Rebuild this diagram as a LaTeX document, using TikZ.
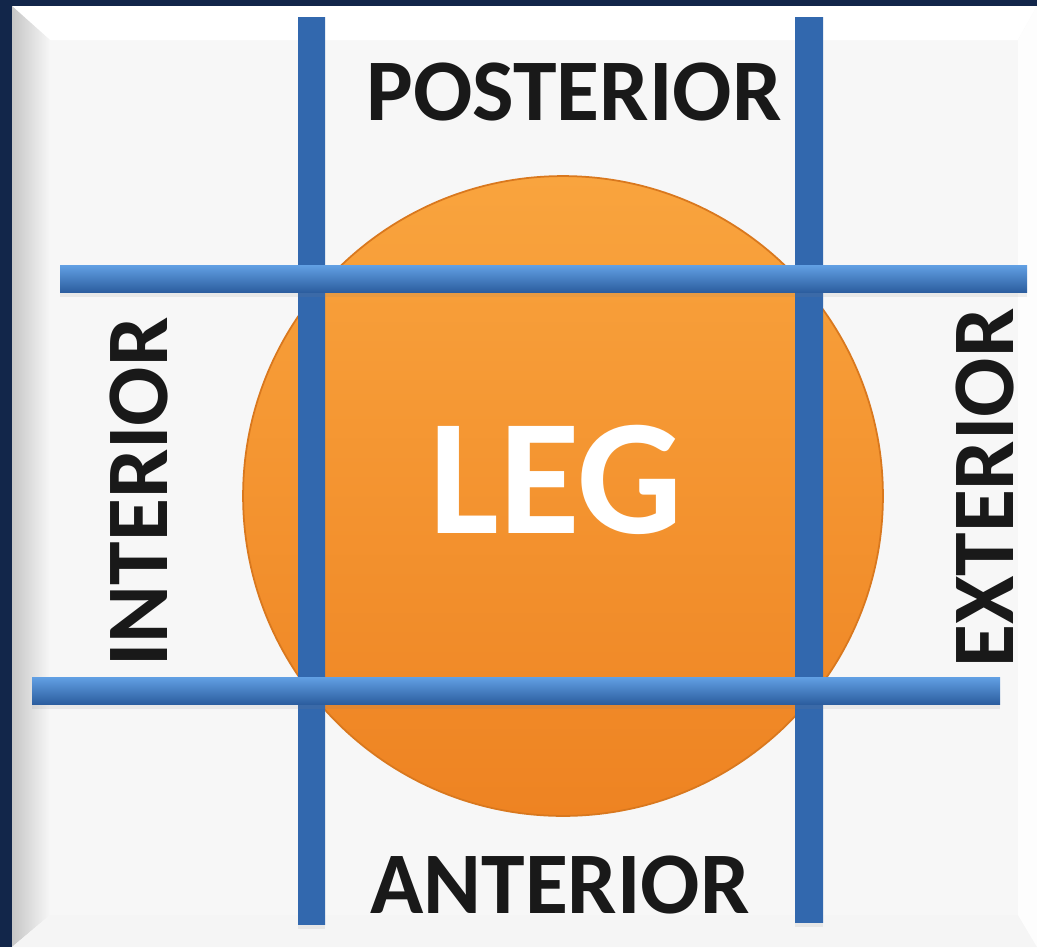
\documentclass[tikz,border=0pt]{standalone}
\usepackage{fontspec}
\setmainfont{Carlito}
\usetikzlibrary{positioning,shadows}

\definecolor{navy}{HTML}{12264A}
\definecolor{panel}{HTML}{F7F7F7}
\definecolor{legtop}{HTML}{F9A43E}
\definecolor{legbot}{HTML}{EE8322}
\definecolor{legline}{HTML}{D9781E}
\definecolor{barblue}{HTML}{3D79C3}
\definecolor{barlight}{HTML}{62A0E4}
\definecolor{bardark}{HTML}{2C5E9F}
\definecolor{vbarside}{HTML}{3268AE}

\begin{document}
\begin{tikzpicture}[x=0.02cm,y=-0.02cm]
  \tikzstyle{hbar}=[top color=barlight,middle color=barblue,bottom color=bardark,drop shadow={opacity=0.12,shadow xshift=0pt,shadow yshift=-3pt}]
  \tikzstyle{vbar}=[left color=vbarside,middle color=barblue,right color=vbarside,drop shadow={opacity=0.12,shadow xshift=0pt,shadow yshift=-3pt}]
  \tikzstyle{side}=[font=\bfseries\fontsize{50}{50}\selectfont,text=black!90,inner sep=0pt]

  \useasboundingbox (0,0) rectangle (1037,947);
  % frame and panel
  \fill[navy] (0,0) rectangle (1037,947);
  \fill[panel] (12,6) rectangle (1037,947);
  \fill[white] (12,6) -- (1037,6) -- (1018,40) -- (50,40) -- cycle;
  \shade[left color=gray!45,right color=panel] (12,6) -- (50,40) -- (50,915) -- (12,947) -- cycle;
  \fill[gray!8] (12,947) -- (50,915) -- (1018,915) -- (1037,947) -- cycle;
  \fill[white!70!panel] (1037,6) -- (1018,40) -- (1018,915) -- (1037,947) -- cycle;

  % the leg
  \node[circle,minimum size=12.8cm,top color=legtop,bottom color=legbot,draw=legline,line width=1pt] (leg) at (563,496) {};
  \node[font=\bfseries\fontsize{94}{94}\selectfont,text=white,inner sep=0pt] (legtxt) at (556,480) {LEG};

  % bars
  \fill[vbar] (298,17) rectangle (325,924);
  \fill[vbar] (795,17) rectangle (823,922);
  \fill[hbar] (60,265) rectangle (1027,292);
  \fill[hbar] (32,677) rectangle (1000,704);

  % labels
  \node[side] (post) at (574,92) {POSTERIOR};
  \node[side] (ant) at (560,885) {ANTERIOR};
  \node[side,rotate=90] (int) at (139,492) {INTERIOR};
  \node[side,rotate=90] (ext) at (985,488) {EXTERIOR};
\end{tikzpicture}
\end{document}
